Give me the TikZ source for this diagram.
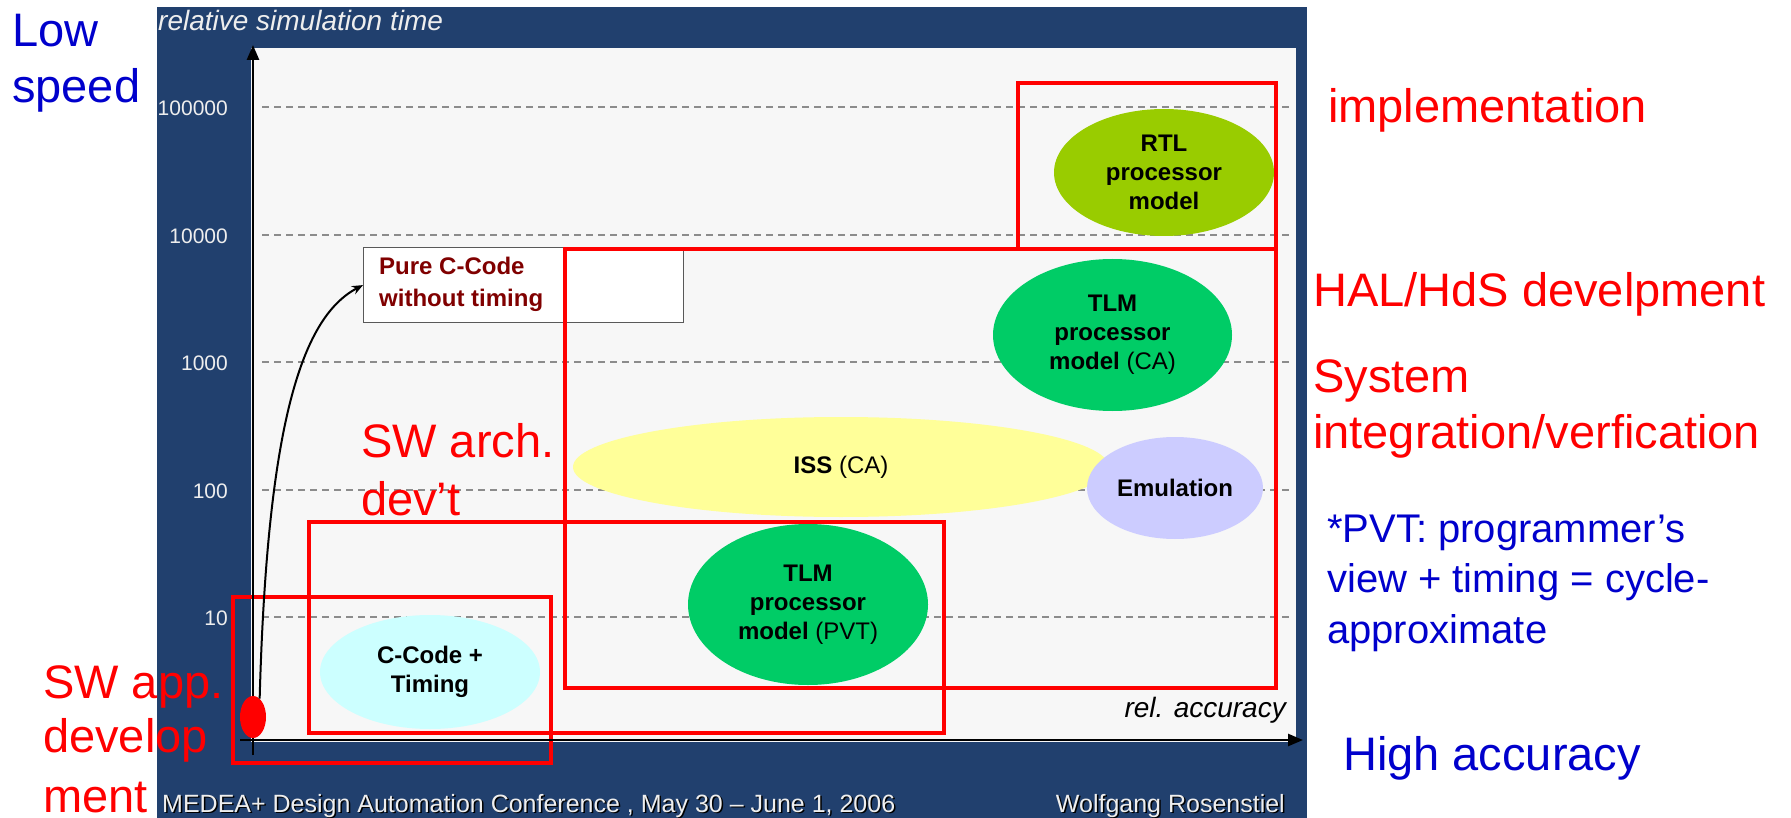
\documentclass[tikz,border=0pt]{standalone}
\usepackage{fontspec}
\setmainfont{Liberation Sans}
\usetikzlibrary{shapes.geometric,arrows.meta}

\definecolor{navy}{RGB}{33,64,110}
\definecolor{plotbg}{RGB}{247,247,247}
\definecolor{gridgray}{RGB}{140,140,140}
\definecolor{lblblue}{RGB}{0,0,204}
\definecolor{darkred}{RGB}{128,0,0}
\definecolor{rtlgreen}{RGB}{153,204,0}
\definecolor{tlmgreen}{RGB}{0,204,102}
\definecolor{issyellow}{RGB}{255,255,153}
\definecolor{emulav}{RGB}{204,204,255}
\definecolor{ccyan}{RGB}{204,255,255}
\definecolor{lighttext}{RGB}{238,238,238}

\newcommand\fsz[2]{\fontsize{#1pt}{#2pt}\selectfont}

\tikzset{
  ell/.style={ellipse, draw=none, inner sep=0pt, align=center,
              font=\fsz{24}{29}\bfseries},
  redbox/.style={draw=red, line width=4pt},
  gridline/.style={draw=gridgray, line width=1.3pt, dash pattern=on 7pt off 5pt},
  ticklbl/.style={anchor=east, inner sep=0pt, text=lighttext, font=\fsz{21}{25}},
  axisline/.style={line width=2.5pt, -{Triangle[length=15pt,width=12pt]}},
  bigred/.style={anchor=base west, inner sep=0pt, text=red, font=\fsz{47}{56}},
  bigblue/.style={anchor=base west, inner sep=0pt, text=lblblue, font=\fsz{47}{56}},
  noteblue/.style={anchor=base west, inner sep=0pt, text=lblblue, font=\fsz{40}{50}},
  footer/.style={inner sep=0pt, font=\fsz{25}{30}},
}

\begin{document}
\begin{tikzpicture}[x=1pt, y=-1pt]
  \useasboundingbox (0,0) rectangle (1791,818);
  \fill[white] (0,0) rectangle (1791,818);

  % slide panel and plot area
  \fill[navy] (157,7) rectangle (1307,818);
  \fill[plotbg] (251,48) rectangle (1296,742);

  % horizontal grid lines with their tick labels
  \foreach \yy/\lab in {107/100000, 235/10000, 362/1000, 490/100, 617/10} {
    \draw[gridline] (262,\yy) -- (1290,\yy);
    \node[ticklbl] (tick\lab) at (228,\yy+1) {\lab};
  }

  % models
  \node[ell, fill=ccyan, minimum width=220pt, minimum height=114pt] (ccode) at (430,672) {C-Code +\\Timing};
  \node[ell, fill=tlmgreen, minimum width=240pt, minimum height=161pt] (tlmpvt) at (808,604.5) {TLM\\processor\\model {\mdseries(PVT)}};
  \node[ell, fill=issyellow, minimum width=536pt, minimum height=100pt] (iss) at (841,467) {ISS {\mdseries(CA)}};
  \node[ell, fill=emulav, minimum width=176pt, minimum height=102pt] (emu) at (1175,488) {Emulation};
  \node[ell, fill=tlmgreen, minimum width=239pt, minimum height=152pt] (tlmca) at (1112.5,335) {TLM\\processor\\model {\mdseries(CA)}};
  \node[ell, fill=rtlgreen, minimum width=220pt, minimum height=127pt] (rtl) at (1164,172.5) {RTL\\processor\\model};

  % pure C-code box
  \node[draw=black!65, line width=1.2pt, fill=white, anchor=north west,
        minimum width=320pt, minimum height=75pt, inner sep=0pt] (pure) at (363,247) {};
  \node[anchor=base west, inner sep=0pt, text=darkred, font=\fsz{24}{32}\bfseries] (pure1) at (379,275) {Pure C-Code};
  \node[anchor=base west, inner sep=0pt, text=darkred, font=\fsz{24}{32}\bfseries] (pure2) at (379,307) {without timing};

  % development phase boxes
  \draw[redbox] (1018,83) rectangle (1276,249);
  \draw[redbox] (565,249) rectangle (1276,688);
  \draw[redbox] (309,522) rectangle (944,733);
  \draw[redbox] (233,597) rectangle (551,763);

  % axes
  \coordinate (ybot) at (253,755);
  \coordinate (ytop) at (253,45);
  \coordinate (xleft) at (240,740);
  \coordinate (xright) at (1303,740);
  \draw[axisline] (ybot) -- (ytop);
  \draw[axisline] (xleft) -- (xright);

  % starting point and the step to untimed C code
  \node[ellipse, fill=red, draw=none, minimum width=26pt, minimum height=42pt, inner sep=0pt] (dot) at (253,717) {};
  \draw[line width=2pt, -{Stealth[length=11pt,width=9pt]}]
    (dot.70) .. controls (267,430) and (300,318) .. (pure.west);

  % axis captions
  \node[anchor=base west, inner sep=0pt, text=lighttext, font=\fsz{28}{34}\itshape] (ycap) at (158,31) {relative simulation time};
  \node[anchor=base east, inner sep=0pt, font=\fsz{28}{34}\itshape] (xcap) at (1286,717) {rel. accuracy};

  % footer
  \node[footer, anchor=base west, text=black] (footLs) at (163.5,813.5) {MEDEA+ Design Automation Conference , May 30 – June 1, 2006};
  \node[footer, anchor=base west, text=lighttext] (footL) at (162,812) {MEDEA+ Design Automation Conference , May 30 – June 1, 2006};
  \node[footer, anchor=base east, text=black] (footRs) at (1286.5,813.5) {Wolfgang Rosenstiel};
  \node[footer, anchor=base east, text=lighttext] (footR) at (1285,812) {Wolfgang Rosenstiel};

  % side annotations
  \node[bigblue] (low1) at (12,47) {Low};
  \node[bigblue] (low2) at (12,103) {speed};
  \node[bigblue] (high) at (1343,770) {High accuracy};

  \node[noteblue] (pvt1) at (1327,542) {*PVT: programmer’s};
  \node[noteblue] (pvt2) at (1327,592) {view + timing = cycle-};
  \node[noteblue] (pvt3) at (1327,643) {approximate};

  \node[bigred] (impl) at (1328,123) {implementation};
  \node[bigred] (hal) at (1313,307) {HAL/HdS develpment};
  \node[bigred] (sys1) at (1313,392) {System};
  \node[bigred] (sys2) at (1313,448) {integration/verfication};

  \node[bigred] (arch1) at (361,457) {SW arch.};
  \node[bigred] (arch2) at (361,515) {dev’t};

  \node[bigred] (app1) at (43,698) {SW app.};
  \node[bigred] (app2) at (43,752) {develop};
  \node[bigred] (app3) at (43,812) {ment};
\end{tikzpicture}
\end{document}
